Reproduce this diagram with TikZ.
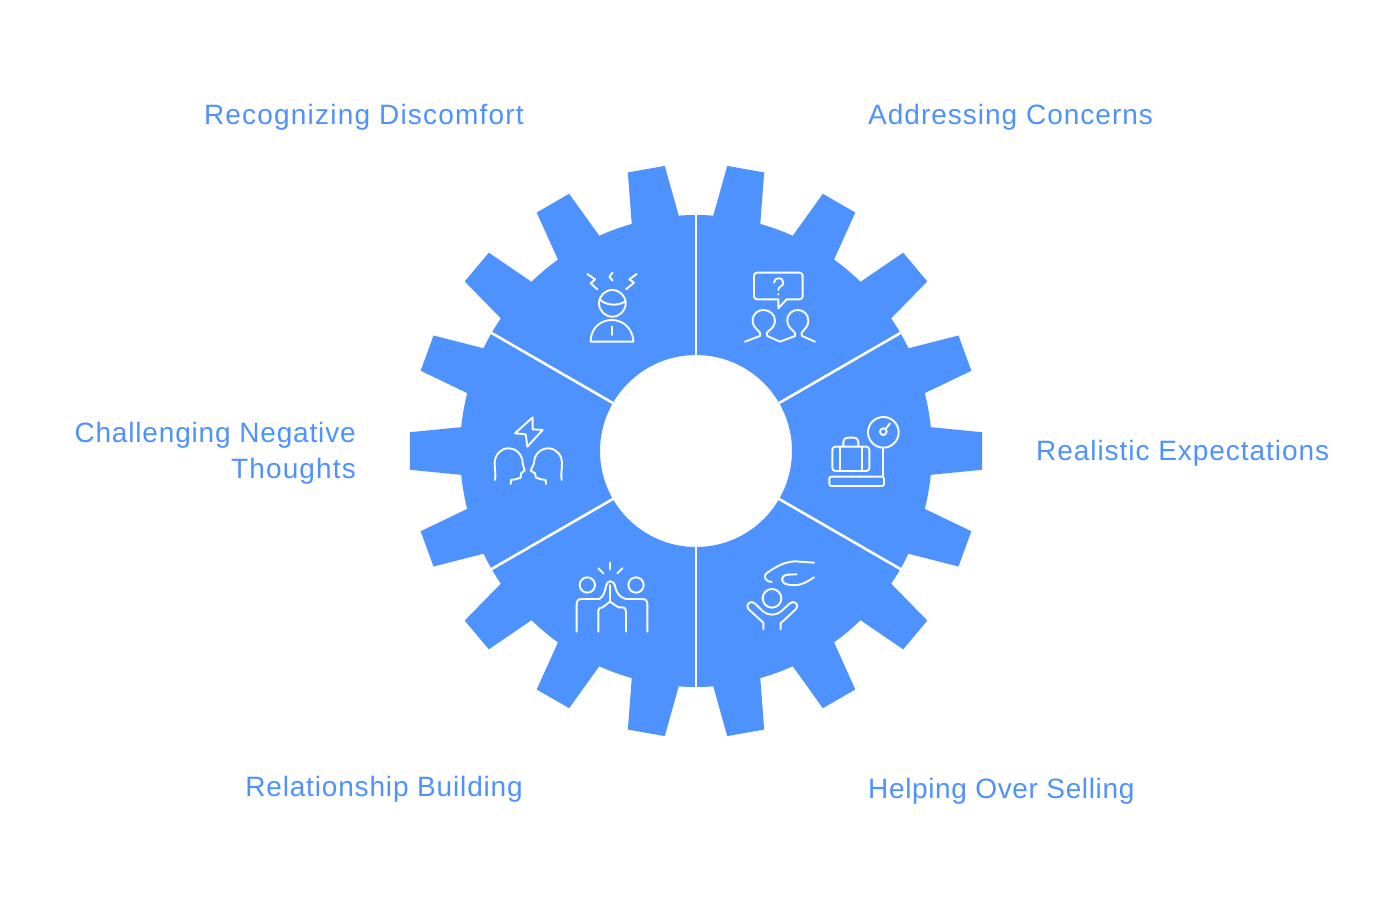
\documentclass[tikz,border=0pt]{standalone}
\usepackage{fontspec}
\setmainfont{Liberation Sans}
\definecolor{gearblue}{HTML}{4E92FF}
\tikzset{
  gearfill/.style={fill=gearblue,even odd rule},
  sep/.style={draw=white,line width=2.6pt},
  ico/.style={draw=white,line width=1.9pt,line cap=round,line join=round,fill=none},
  lab/.style={text=gearblue,inner sep=0pt,font=\fontsize{28}{36}\selectfont,align=right}
}
\newcommand{\ls}[2]{{\addfontfeature{LetterSpace=#1}#2}}
\begin{document}
\begin{tikzpicture}[x=1pt,y=1pt]
\useasboundingbox (0,0) rectangle (1392,-910);
\fill[white] (0,0) rectangle (1392,-910);
\begin{scope}[shift={(696,-451)}]
\fill[gearfill] (-5.8:236)
  \foreach \a in {0,20,...,340} {
    -- (\a-5.8:236) -- (\a-3.75:286.8) -- (\a+3.75:286.8)
    -- (\a+5.8:236)
    arc[start angle=\a+5.8,end angle=\a+14.2,radius=236]
  } -- cycle
  (0,0) circle (96);
\foreach \a in {30,90,...,330} \draw[sep] (\a:95) -- (\a:237);
\end{scope}
% labels
\node[lab,anchor=base east] (l1) at (524,-124) {\ls{4.3}{Recognizing Discomfort}};
\node[lab,anchor=base west] (l2) at (868,-124) {\ls{3.6}{Addressing Concerns}};
\node[lab,anchor=base west] (l3) at (1036,-460) {\ls{3.4}{Realistic Expectations}};
\node[lab,anchor=base west] (l4) at (868,-798) {\ls{2.3}{Helping Over Selling}};
\node[lab,anchor=base east] (l5) at (523,-796) {\ls{3}{Relationship Building}};
\node[lab,anchor=base east] (l6) at (356,-442) {\ls{3}{Challenging Negative}};
\node[lab,anchor=base east] (l7) at (356,-478) {\ls{4}{Thoughts}};
% icons in zoom coordinates
\begin{scope}[x=0.33333pt,y=-0.33333pt,shift={(1680,750)}]
% discomfort
\draw[ico] (82,72) -- (105,88) -- (92,100) -- (112,118);
\draw[ico] (158,68) -- (148,80) -- (158,92);
\draw[ico] (230,72) -- (208,88) -- (222,98) -- (198,118);
\draw[ico] (157,160) circle (40);
\draw[ico] (119,148) .. controls (135,165) and (170,170) .. (195,155);
\draw[ico] (92,275) -- (220,275) -- (220,270) .. controls (215,230) and (185,210) .. (155,210) .. controls (125,210) and (95,230) .. (92,270) -- cycle;
\draw[ico] (155,230) -- (155,255);
% concerns
\draw[ico,rounded corners=3pt] (655,148) -- (582,148) -- (582,68) -- (728,68) -- (728,148) -- (680,148);
\draw[ico] (680,148) -- (655,175) -- (655,148);
\draw[ico] (642,98) .. controls (642,80) and (670,80) .. (670,98) .. controls (670,110) and (655,108) .. (655,120);
\fill[white] (655,133) circle (3.5);
\draw[ico] (555,275) -- (600,258) .. controls (610,245) and (578,240) .. (578,212) .. controls (578,190) and (595,180) .. (610,180) .. controls (628,180) and (645,192) .. (645,212) .. controls (645,240) and (610,245) .. (622,258) -- (660,275) -- (705,258) .. controls (715,245) and (682,240) .. (682,212) .. controls (682,190) and (698,180) .. (713,180) .. controls (730,180) and (745,192) .. (745,212) .. controls (745,240) and (715,245) .. (726,258) -- (765,275);
\end{scope}
% challenging
\begin{scope}[x=0.33333pt,y=-0.33333pt,shift={(1440,1200)}]
\draw[ico] (158,52) -- (105,100) -- (137,103) -- (142,140) -- (188,90) -- (158,88) -- cycle;
\draw[ico] (45,240) .. controls (48,225) and (44,205) .. (44,190) .. controls (44,165) and (62,145) .. (85,145) .. controls (110,145) and (128,165) .. (128,190) -- (134,212) -- (123,220) -- (122,233) -- (106,238) -- (93,240) -- (92,252);
\draw[ico] (245,240) .. controls (242,225) and (246,205) .. (246,190) .. controls (246,165) and (228,145) .. (205,145) .. controls (180,145) and (162,165) .. (162,190) -- (152,212) -- (165,220) -- (168,233) -- (184,238) -- (197,240) -- (198,252);
\end{scope}
% expectations
\begin{scope}[x=0.33333pt,y=-0.33333pt,shift={(2445,1215)}]
\draw[ico] (205,82) circle (46);
\draw[ico] (205,80) circle (10);
\draw[ico] (212,72) -- (225,55);
\draw[ico] (205,128) -- (205,215);
\draw[ico,rounded corners=2pt] (43,215) rectangle (207,243);
\draw[ico,rounded corners=3pt] (52,125) rectangle (163,198);
\draw[ico] (75,125) -- (75,198);
\draw[ico] (140,125) -- (140,198);
\draw[ico] (85,125) -- (85,110) .. controls (85,102) and (92,98) .. (100,98) -- (116,98) .. controls (124,98) and (130,102) .. (130,110) -- (130,125);
\end{scope}
% hi-five + helping
\begin{scope}[x=0.33333pt,y=-0.33333pt,shift={(1680,1650)}]
\draw[ico] (82,105) circle (23);
\draw[ico] (228,105) circle (23);
\draw[ico] (150,38) -- (150,58);
\draw[ico] (115,55) -- (130,70);
\draw[ico] (187,55) -- (172,70);
\draw[ico] (50,245) -- (50,162) .. controls (50,152) and (55,147) .. (65,147) -- (118,147) .. controls (130,140) and (135,125) .. (138,108) .. controls (141,90) and (160,88) .. (165,108) .. controls (168,125) and (178,143) .. (198,147) -- (247,147) .. controls (257,147) and (262,152) .. (262,162) -- (262,245);
\draw[ico] (115,245) -- (115,182) .. controls (115,175) and (120,172) .. (128,172) -- (150,155) -- (175,172) -- (187,172) .. controls (194,172) and (198,176) .. (198,184) -- (198,245);
\draw[ico] (150,105) -- (150,155);
\draw[ico] (762,38) -- (705,34) .. controls (670,35) and (640,55) .. (617,72) .. controls (610,82) and (618,95) .. (635,96);
\draw[ico] (710,73) -- (682,74) .. controls (660,78) and (660,100) .. (685,104) .. controls (715,110) and (735,100) .. (762,82);
\draw[ico] (636,145) circle (28);
\draw[ico] (610,238) -- (610,218) -- (565,177) .. controls (555,165) and (572,148) .. (584,160) -- (610,185) .. controls (625,197) and (648,197) .. (662,185) -- (690,160) .. controls (702,148) and (720,165) .. (708,177) -- (662,220) -- (662,238);
\end{scope}
\end{tikzpicture}
\end{document}
